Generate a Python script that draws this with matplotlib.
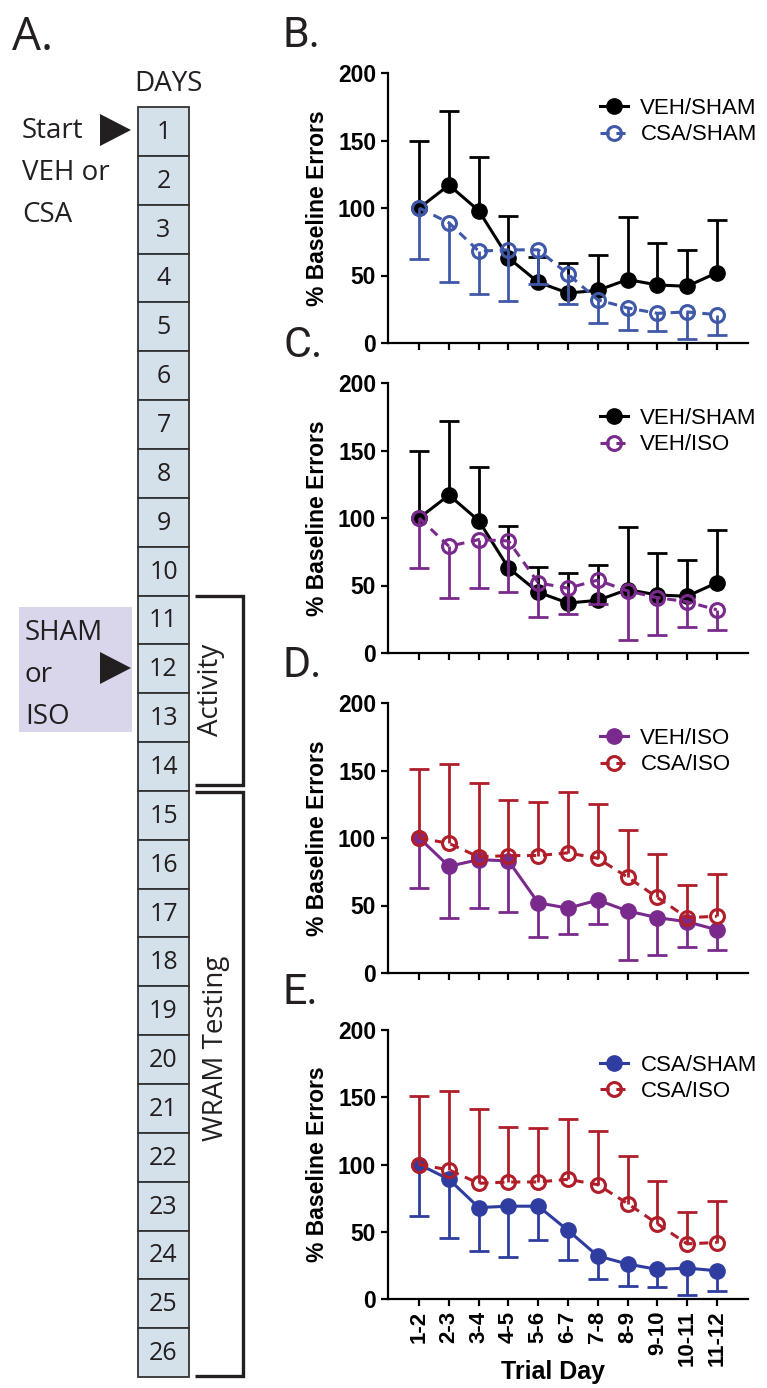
import matplotlib
matplotlib.use("Agg")
import matplotlib.pyplot as plt
from matplotlib.patches import Rectangle, Polygon
import numpy as np

# data
trial_days = ['1-2', '2-3', '3-4', '4-5', '5-6', '6-7', '7-8', '8-9', '9-10', '10-11', '11-12']

veh_sham = [100, 117, 98, 63, 45, 37, 39, 47, 43, 42, 52]
veh_sham_err = [50, 55, 40, 31, 19, 22, 26, 46, 31, 27, 39]

csa_sham = [100, 89, 68, 69, 69, 51, 32, 26, 22, 23, 21]
csa_sham_err = [38, 44, 32, 38, 25, 22, 17, 16, 13, 20, 15]

veh_iso = [100, 79, 84, 83, 52, 48, 54, 46, 41, 38, 32]
veh_iso_err = [37, 38, 36, 38, 25, 19, 18, 36, 28, 19, 15]

csa_iso = [100, 96, 86, 87, 87, 89, 85, 71, 56, 41, 42]
csa_iso_err = [51, 59, 55, 41, 40, 45, 40, 35, 32, 24, 31]

days = list(range(1, 27))

series = {
    'VEH/SHAM': (veh_sham, veh_sham_err),
    'CSA/SHAM': (csa_sham, csa_sham_err),
    'VEH/ISO': (veh_iso, veh_iso_err),
    'CSA/ISO': (csa_iso, csa_iso_err),
}

# panel: letter, axes top/bottom in px, list of (name, colour, filled, error direction)
panels = [
    ('B.', 73, 343, [('VEH/SHAM', '#000000', True, 1), ('CSA/SHAM', '#4058A8', False, -1)]),
    ('C.', 383, 653, [('VEH/SHAM', '#000000', True, 1), ('VEH/ISO', '#7A2A8C', False, -1)]),
    ('D.', 703, 973, [('VEH/ISO', '#7A2A8C', True, -1), ('CSA/ISO', '#B01E2A', False, 1)]),
    ('E.', 1030, 1299, [('CSA/SHAM', '#2E3D9F', True, -1), ('CSA/ISO', '#B01E2A', False, 1)]),
]

W, H = 767, 1388
fig = plt.figure(figsize=(W / 100, H / 100), dpi=100)
plt.rcParams['font.family'] = ['Liberation Sans', 'DejaVu Sans']

# ---- panel A: timeline diagram, drawn in pixel coords ----
axA = fig.add_axes([0, 0, 1, 1])
axA.set_xlim(0, W)
axA.set_ylim(H, 0)
axA.axis('off')
fa = dict(family=['Open Sans', 'DejaVu Sans'], color='#231F20')

axA.text(12, 50, 'A.', fontsize=33, va='baseline', **fa)
axA.text(168, 91, 'DAYS', fontsize=20, ha='center', va='baseline', **fa)

box_top, box_h, box_x, box_w = 107, 48.85, 138, 51
axA.add_patch(Rectangle((19, 607), 113, 125, facecolor='#D9D6EC', edgecolor='none'))
for i, d in enumerate(days):
    y0 = box_top + i * box_h
    axA.add_patch(Rectangle((box_x, y0), box_w, box_h, facecolor='#D5E1EA',
                            edgecolor='#333333', lw=1.3))
    axA.text(box_x + box_w / 2, y0 + box_h / 2 + 1, str(d), fontsize=18,
             ha='center', va='center', **fa)

for yc in (130, 668):
    axA.add_patch(Polygon([(100, yc - 16), (100, yc + 16), (131, yc)], closed=True,
                          facecolor='#231F20', edgecolor='none'))

for txt, yb in (('Start', 138), ('VEH or', 180), ('CSA', 222)):
    axA.text(22, yb, txt, fontsize=20, va='baseline', **fa)
for txt, yb in (('SHAM', 640), ('or', 682), ('ISO', 724)):
    axA.text(25, yb, txt, fontsize=20, va='baseline', **fa)

bk = dict(color='#231F20', lw=2.4, solid_capstyle='butt', solid_joinstyle='miter')
axA.plot([195, 243, 243, 195], [596, 596, 785, 785], **bk)
axA.plot([195, 243, 243, 195], [792, 792, 1376, 1376], **bk)
axA.text(211, 690, 'Activity', fontsize=20, rotation=90, ha='center', va='center', **fa)
axA.text(216, 1048, 'WRAM Testing', fontsize=20, rotation=90, ha='center', va='center', **fa)

# ---- panels B-E ----
x = np.arange(len(trial_days))
left, right = 388, 748
for letter, top, bottom, groups in panels:
    ax = fig.add_axes([left / W, 1 - bottom / H, (right - left) / W, (bottom - top) / H])
    ax.patch.set_alpha(0)
    for z, (name, col, filled, direction) in enumerate(groups):
        y, err = series[name]
        y = np.array(y, float)
        tip = y + direction * np.array(err, float)
        zo = 3 + 2 * z
        ax.vlines(x, y, tip, color=col, lw=2.0, zorder=zo - 0.5)
        ax.plot(x, tip, ls='none', marker='_', ms=14, mew=2.0, color=col, zorder=zo - 0.5)
        if filled:
            ax.plot(x, y, color=col, lw=2.2, marker='o', ms=11, mfc=col, mec=col,
                    label=name, zorder=zo)
        else:
            ax.plot(x, y, color=col, lw=2.2, ls=(0, (3, 2.2)), marker='o', ms=10,
                    mfc='none', mec=col, mew=2.2, label=name, zorder=zo)

    ax.set_xlim(-1.05, 11.05)
    ax.set_ylim(0, 200)
    ax.set_yticks([0, 50, 100, 150, 200])
    ax.set_xticks(x)
    for s in ('top', 'right'):
        ax.spines[s].set_visible(False)
    for s in ('left', 'bottom'):
        ax.spines[s].set_linewidth(1.6)
    ax.tick_params(direction='out', length=5, width=1.6, labelsize=16.5)
    for lab in ax.get_yticklabels():
        lab.set_fontweight('bold')
    if letter == 'E.':
        ax.set_xticklabels(trial_days, rotation=90, fontweight='bold', fontsize=16)
        fig.text(553 / W, 1 - 1379 / H, 'Trial Day', fontsize=18, fontweight='bold',
                 ha='center', va='baseline')
    else:
        ax.set_xticklabels([])
    ax.text((317 - left) / (right - left), 0.5, '% Baseline Errors', transform=ax.transAxes,
            rotation=90, ha='center', va='center', fontsize=16.5, fontweight='bold')
    fig.text(283 / W, 1 - (top - 26) / H, letter, fontsize=31, va='baseline',
             family=['Roboto', 'DejaVu Sans'], color='#231F20')

    ax.legend(loc='center left', bbox_to_anchor=(0.59, 0.82), frameon=False,
              fontsize=16, handlelength=1.25, handletextpad=0.55, labelspacing=0.25,
              borderpad=0, borderaxespad=0)

fig.savefig('out.png', dpi=100)
